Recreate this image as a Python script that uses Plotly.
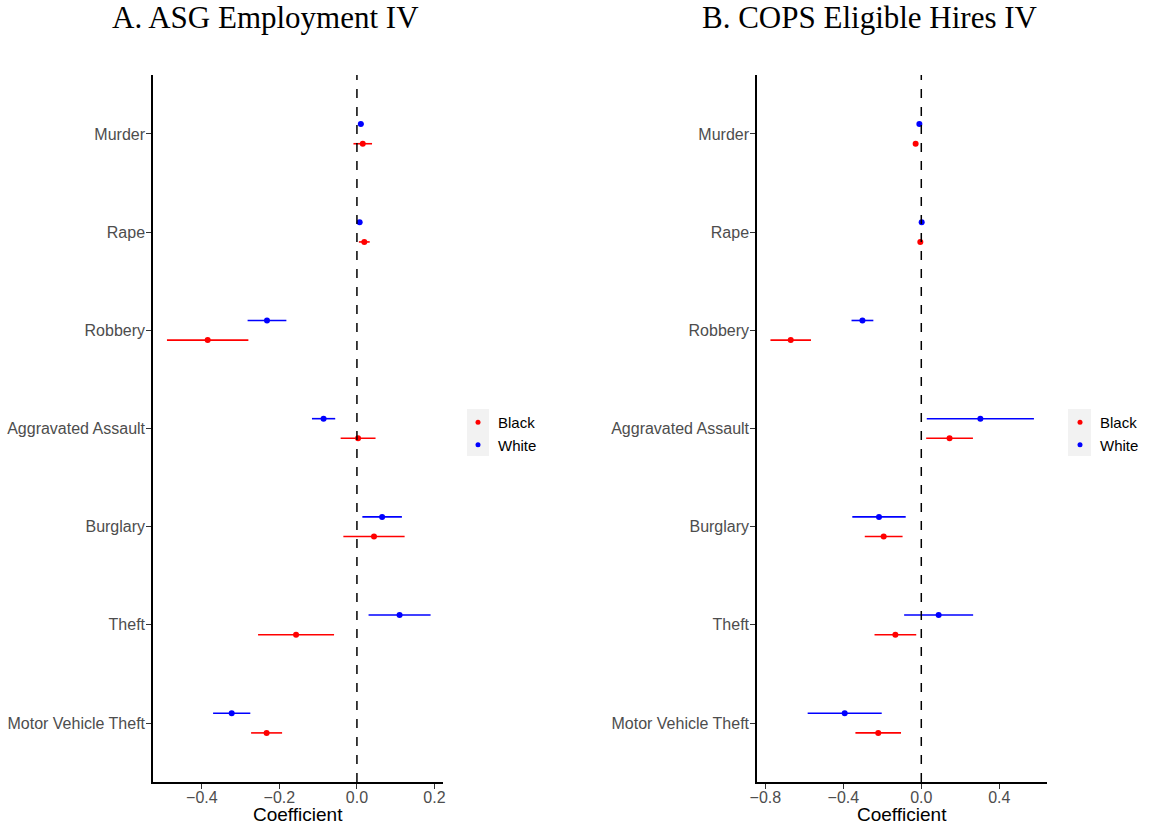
import plotly.graph_objects as go

categories = ["Murder", "Rape", "Robbery", "Aggravated Assault", "Burglary", "Theft", "Motor Vehicle Theft"]

# Panel A: ASG Employment IV  (coefficient, CI half-width)
a_black_coef = [0.015, 0.019, -0.385, 0.003, 0.044, -0.157, -0.233]
a_black_ci = [0.024, 0.014, 0.105, 0.045, 0.079, 0.098, 0.040]
a_white_coef = [0.010, 0.007, -0.232, -0.086, 0.065, 0.110, -0.323]
a_white_ci = [0.007, 0.004, 0.050, 0.030, 0.051, 0.080, 0.048]

# Panel B: COPS Eligible Hires IV
b_black_coef = [-0.029, -0.005, -0.670, 0.145, -0.193, -0.133, -0.221]
b_black_ci = [0.008, 0.006, 0.104, 0.120, 0.097, 0.107, 0.117]
b_white_coef = [-0.010, 0.002, -0.302, 0.303, -0.217, 0.089, -0.393]
b_white_ci = [0.008, 0.006, 0.056, 0.275, 0.137, 0.177, 0.190]

titles = ["A. ASG Employment IV", "B. COPS Eligible Hires IV"]
x_ticks_a = [-0.4, -0.2, 0.0, 0.2]
x_ticks_b = [-0.8, -0.4, 0.0, 0.4]

W, H = 1150, 827
RED, BLUE = "#ff0000", "#0000ff"
n = len(categories)
base = [n - i for i in range(n)]  # Murder on top
dodge = 0.1
SANS = "Liberation Sans, Arial, sans-serif"

def px_x(p):
    return p / W

def px_y(p):
    return 1 - p / H

fig = go.Figure()

panels = [
    ("x", "y", a_black_coef, a_black_ci, a_white_coef, a_white_ci, "legend"),
    ("x2", "y2", b_black_coef, b_black_ci, b_white_coef, b_white_ci, "legend2"),
]
for xa, ya, bc, bci, wc, wci, lg in panels:
    for name, coef, ci, col, off in [("Black", bc, bci, RED, -dodge), ("White", wc, wci, BLUE, dodge)]:
        fig.add_trace(go.Scatter(
            x=coef, y=[b + off for b in base], mode="markers",
            marker=dict(color=col, size=6),
            error_x=dict(type="data", array=ci, symmetric=True, color=col, thickness=1.6, width=0),
            xaxis=xa, yaxis=ya, showlegend=False, name=name, hoverinfo="x+name",
        ))
    for name, col in [("Black", RED), ("White", BLUE)]:
        fig.add_trace(go.Scatter(
            x=[None], y=[None], mode="markers", marker=dict(color=col, size=5),
            name=name, xaxis=xa, yaxis=ya, legend=lg, showlegend=True,
        ))

dom_y = [px_y(782), px_y(75)]
common_x = dict(showgrid=False, zeroline=False, showline=True, linecolor="black", linewidth=1.5,
                ticks="outside", ticklen=5, tickwidth=1.2, tickcolor="#333333",
                tickfont=dict(family=SANS, size=16, color="#4d4d4d"),
                tickformat=".1f", automargin=False, ticklabelstandoff=-5)
common_y = dict(showgrid=False, zeroline=False, showline=True, linecolor="black", linewidth=1.5,
                ticks="outside", ticklen=5, tickwidth=1.2, tickcolor="#333333",
                tickfont=dict(family=SANS, size=16, color="#4d4d4d"),
                tickvals=base, ticktext=categories, range=[0.4, n + 0.6], automargin=False, domain=dom_y,
                ticklabelstandoff=-2)

fig.update_layout(
    width=W, height=H,
    margin=dict(l=0, r=0, t=0, b=0),
    plot_bgcolor="white", paper_bgcolor="white",
    xaxis=dict(common_x, domain=[px_x(153), px_x(443)], range=[-0.526, 0.222], tickvals=x_ticks_a, anchor="y"),
    yaxis=dict(common_y, anchor="x"),
    xaxis2=dict(common_x, domain=[px_x(757), px_x(1047)], range=[-0.843, 0.645], tickvals=x_ticks_b, anchor="y2"),
    yaxis2=dict(common_y, anchor="x2"),
    legend=dict(x=px_x(458), y=px_y(406), xanchor="left", yanchor="top", bgcolor="rgba(0,0,0,0)",
                font=dict(family=SANS, size=15, color="black")),
    legend2=dict(x=px_x(1060), y=px_y(406), xanchor="left", yanchor="top", bgcolor="rgba(0,0,0,0)",
                 font=dict(family=SANS, size=15, color="black")),
    showlegend=True,
)

# dashed zero lines
for xr, yr in [("x", "y domain"), ("x2", "y2 domain")]:
    fig.add_shape(type="line", xref=xr, yref=yr, x0=0, x1=0, y0=0, y1=1,
                  line=dict(color="black", width=1.5, dash="dash"))

# legend key backgrounds
for x0, x1 in [(467, 489), (1068, 1091)]:
    fig.add_shape(type="rect", xref="paper", yref="paper", x0=px_x(x0), x1=px_x(x1),
                  y0=px_y(456), y1=px_y(409), fillcolor="#f2f2f2", line=dict(width=0), layer="below")

# titles and axis titles
for t, cx in zip(titles, [265, 870]):
    fig.add_annotation(text=t, x=px_x(cx), y=px_y(18), xref="paper", yref="paper",
                       xanchor="center", yanchor="middle", showarrow=False,
                       font=dict(family="Liberation Serif, Times New Roman, serif", size=31, color="black"))
for cx in [298, 902]:
    fig.add_annotation(text="Coefficient", x=px_x(cx), y=px_y(814), xref="paper", yref="paper",
                       xanchor="center", yanchor="middle", showarrow=False,
                       font=dict(family=SANS, size=19, color="black"))

fig.write_html("out.html", config={"displayModeBar": False},
               post_script="document.body.style.margin='0';document.body.style.overflow='hidden';")
